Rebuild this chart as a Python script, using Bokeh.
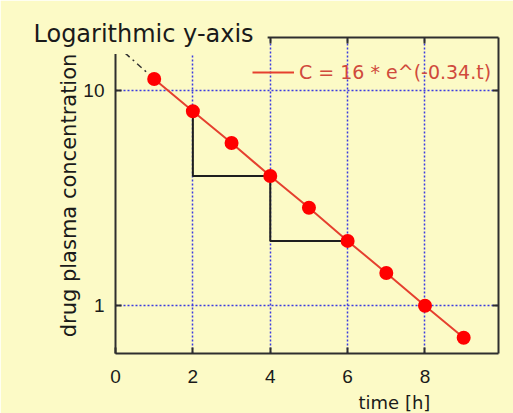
from bokeh.plotting import figure
from bokeh.models import (FixedTicker, Legend, LegendItem, LinearAxis, LogAxis,
                          Range1d, BasicTickFormatter, Grid, Title)
from bokeh.embed import file_html
from bokeh.resources import INLINE

# ---- data ----
time_h = [1, 2, 3, 4, 5, 6, 7, 8, 9]
conc = [11.3, 8.0, 5.7, 4.0, 2.85, 2.0, 1.42, 1.0, 0.71]
extrap_t = [0.25, 1.0]
extrap_c = [14.9, 11.3]
halflife_t = [2, 2, 4, 4, 6]
halflife_c = [8, 4, 4, 2, 2]
x_ticks = [0, 2, 4, 6, 8]
y_ticks = [1, 10]
title_text = "Logarithmic y-axis"
legend_text = "C = 16 * e^(-0.34.t)"
y_label = "drug plasma concentration"
x_label = "time [h]"

BG = "#fcfac6"
AX = "#2e2e2e"
GRID = "#3b3be0"
TXT = "#1a1a1a"

p = figure(frame_width=383, frame_height=316,
           min_border_left=115, min_border_right=15, min_border_top=37, min_border_bottom=60,
           x_range=Range1d(0, 9.9), y_range=Range1d(0.6, 17.6),
           y_axis_type="log", x_axis_location=None, y_axis_location=None,
           output_backend="svg", toolbar_location=None,
           background_fill_color=BG, border_fill_color=BG, outline_line_color=None)

def style_axis(ax, labels=True):
    ax.axis_line_color = AX
    ax.axis_line_width = 2
    ax.major_tick_line_color = AX
    ax.major_tick_line_width = 2
    ax.major_tick_in = 6
    ax.major_tick_out = 0
    ax.minor_tick_line_color = None
    if labels:
        ax.major_label_text_font = "Liberation Sans"
        ax.major_label_text_font_size = "19px"
        ax.major_label_text_color = TXT
    else:
        ax.major_label_text_color = None
        ax.major_label_text_font_size = "1px"
        ax.major_label_standoff = 0

xt = FixedTicker(ticks=x_ticks, minor_ticks=[])
yt = FixedTicker(ticks=y_ticks, minor_ticks=[])

bottom = LinearAxis(ticker=xt)
style_axis(bottom)
bottom.major_label_standoff = 16
p.add_layout(bottom, "below")

top = LinearAxis(ticker=xt)
style_axis(top, labels=False)
p.add_layout(top, "above")

left = LogAxis(ticker=yt, formatter=BasicTickFormatter())
style_axis(left)
left.major_label_standoff = 11
left.axis_label = y_label
left.axis_label_text_font = "DejaVu Sans"
left.axis_label_text_font_size = "21px"
left.axis_label_text_font_style = "normal"
left.axis_label_text_color = TXT
left.axis_label_standoff = -1
p.add_layout(left, "left")

right = LogAxis(ticker=yt)
style_axis(right, labels=False)
p.add_layout(right, "right")

p.xgrid.visible = False
p.ygrid.visible = False
p.add_layout(Grid(dimension=0, ticker=FixedTicker(ticks=x_ticks[1:]), grid_line_color=GRID,
                  grid_line_dash="2 2", grid_line_width=1.5))
p.add_layout(Grid(dimension=1, ticker=yt, grid_line_color=GRID,
                  grid_line_dash="2 2", grid_line_width=1.5))

# half-life staircase
p.line(halflife_t, halflife_c, line_color="#1e1e1e", line_width=2)
# extrapolation to t=0
p.line(extrap_t, extrap_c, line_color="#333333", line_width=1.5, line_dash="6 4 2 4")
# fitted curve and measured points
fit = p.line(time_h, conc, line_color="#e5402f", line_width=2)
p.scatter(time_h, conc, size=14, fill_color="#ff0000", line_color=None)

legend = Legend(items=[LegendItem(label=legend_text, renderers=[fit])],
                location=(137, 270), padding=0, margin=0, spacing=0,
                glyph_width=42, glyph_height=20, label_height=20, label_standoff=5,
                label_text_font="DejaVu Sans", label_text_font_size="19px",
                label_text_color="#d04a3c", background_fill_alpha=0,
                border_line_color=None)
p.add_layout(legend)

# chart title, overlapping the top-left corner of the frame (covers the axes there)
p.title.text = title_text
p.title.align = "left"
p.title.vertical_align = "bottom"
p.title.offset = -86
p.title.standoff = -33
p.title.text_font = "DejaVu Sans"
p.title.text_font_size = "24px"
p.title.text_font_style = "normal"
p.title.text_color = TXT
p.title.background_fill_color = BG
p.title.padding = (4, 14, 6, 6)

# x-axis caption, right of centre as in the original
xcap = Title(text=x_label, align="left", vertical_align="top", offset=243, standoff=12,
             text_font="DejaVu Sans", text_font_size="18px", text_font_style="normal",
             text_color=TXT)
p.add_layout(xcap, "below")

open("out.html", "w").write(file_html(p, INLINE))
